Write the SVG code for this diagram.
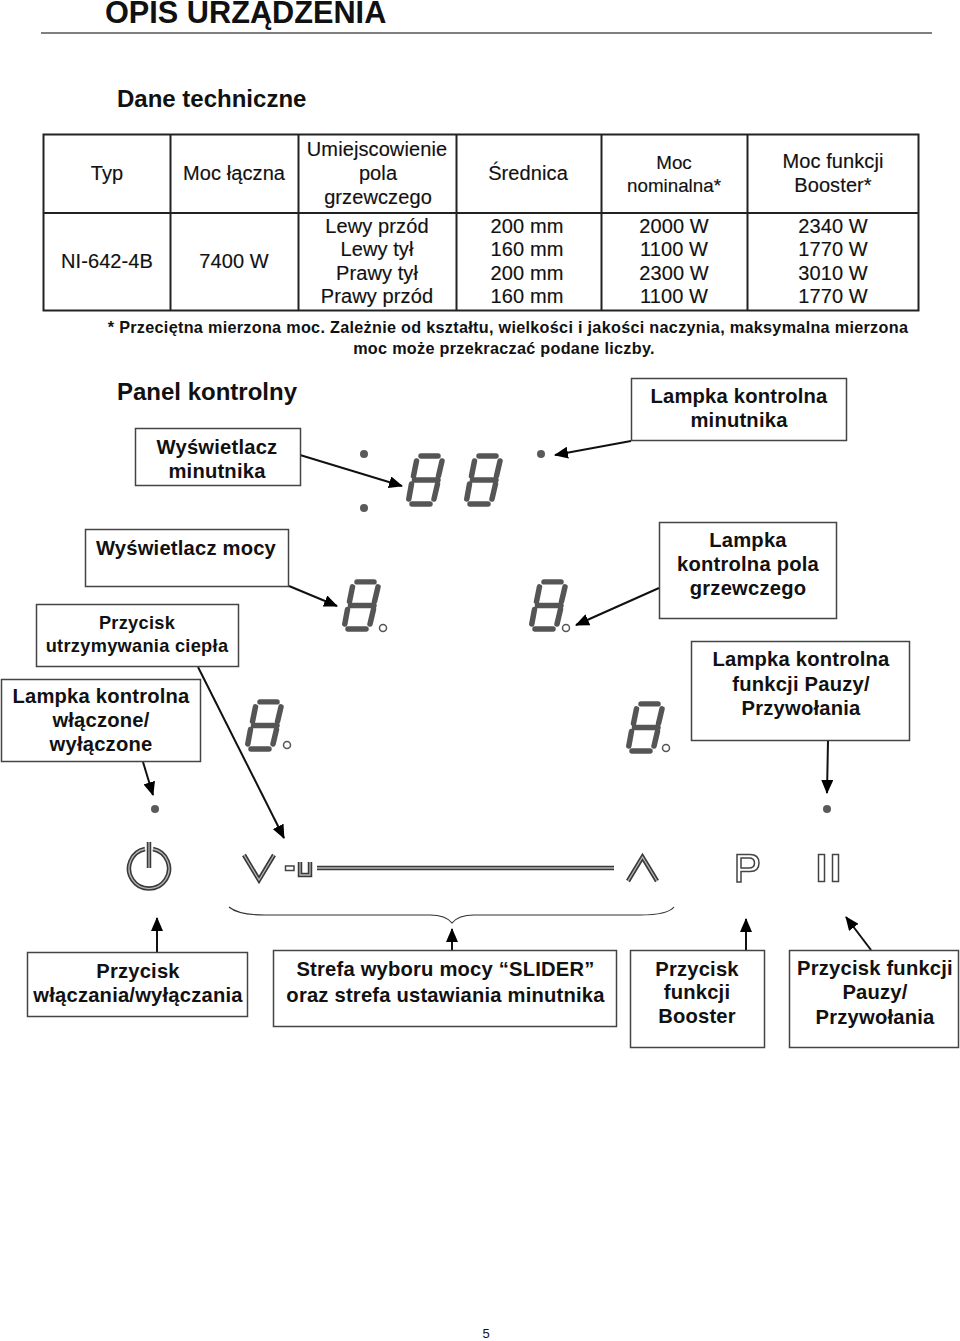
<svg xmlns="http://www.w3.org/2000/svg" width="960" height="1341" viewBox="0 0 960 1341">
<style>
text{font-family:"Liberation Sans",Arial,sans-serif;fill:#111;text-anchor:middle}
.t{font-size:20px;letter-spacing:.1px;stroke:#111;stroke-width:.15px}
.l{font-size:20.200px;font-weight:700;letter-spacing:.2px}
.s{font-size:18.800px;stroke:#111;stroke-width:.15px}
.u{font-size:18.200px;font-weight:700;letter-spacing:.3px}
.f{font-size:16.200px;font-weight:700;letter-spacing:.3px}
.b{fill:#fff;stroke:#444;stroke-width:1.5}
.c{fill:none;stroke:#111;stroke-width:2;marker-end:url(#a)}
.g{fill:none;stroke:#222;stroke-width:2}
.seg{fill:none;stroke:#555;stroke-width:5.500;stroke-linecap:round}
.dot{fill:#5a5a5a}
.o{fill:#fff;stroke:#555;stroke-width:1.5}
.ic{fill:none;stroke:#3a3a3a;stroke-width:4.5}
.in{fill:none;stroke:#b5b5b5;stroke-width:1.3}
.h{fill:#fff;stroke:#444;stroke-width:1.5}
</style>
<defs>
<marker id="a" viewBox="0 0 14 12" refX="13" refY="6" markerUnits="userSpaceOnUse" markerWidth="14" markerHeight="12" orient="auto"><path d="M0 0L14 6L0 12z" fill="#000"/></marker>
<g id="d">
<path class="seg" d="M14 4H31M7.500 28H31M5 52H23M9.500 9L6.500 24M35 9L31.500 24M4.500 32L1.800 47M30.500 32L27 47"/>
</g>
</defs>
<g id="header">
<text x="105" y="23" font-size="30.700" font-weight="700" style="text-anchor:start">OPIS URZĄDZENIA</text>
<line x1="41" y1="33" x2="932" y2="33" stroke="#555" stroke-width="1.300"/>
<text x="117" y="107" font-size="24" font-weight="700" style="text-anchor:start">Dane techniczne</text>
</g>
<g id="table">
<rect x="43.500" y="134.500" width="875" height="176" fill="none" stroke="#222" stroke-width="2"/>
<path class="g" d="M170.500 134V311M298.500 134V311M456.500 134V311M601.500 134V311M747.500 134V311M43 213H919"/>
<text class="t" x="107" y="180">Typ</text><text class="t" x="234" y="180">Moc łączna</text>
<text class="t" x="377" y="156">Umiejscowienie</text><text class="t" x="378" y="180">pola</text><text class="t" x="378" y="204">grzewczego</text>
<text class="t" x="528" y="180">Średnica</text>
<text class="s" x="674" y="169">Moc</text><text class="s" x="674" y="192">nominalna*</text>
<text class="t" x="833" y="168">Moc funkcji</text><text class="t" x="833" y="192">Booster*</text>
<text class="t" x="107" y="268">NI-642-4B</text><text class="t" x="234" y="268">7400 W</text>
<text class="t" x="377" y="233">Lewy przód</text><text class="t" x="377" y="256">Lewy tył</text><text class="t" x="377" y="280">Prawy tył</text><text class="t" x="377" y="303">Prawy przód</text>
<text class="t" x="527" y="233">200 mm</text><text class="t" x="527" y="256">160 mm</text><text class="t" x="527" y="280">200 mm</text><text class="t" x="527" y="303">160 mm</text>
<text class="t" x="674" y="233">2000 W</text><text class="t" x="674" y="256">1100 W</text><text class="t" x="674" y="280">2300 W</text><text class="t" x="674" y="303">1100 W</text>
<text class="t" x="833" y="233">2340 W</text><text class="t" x="833" y="256">1770 W</text><text class="t" x="833" y="280">3010 W</text><text class="t" x="833" y="303">1770 W</text>
<text class="f" x="508" y="333">* Przeciętna mierzona moc. Zależnie od kształtu, wielkości i jakości naczynia, maksymalna mierzona</text>
<text class="f" x="504" y="354">moc może przekraczać podane liczby.</text>
<text x="117" y="400" font-size="24" font-weight="700" style="text-anchor:start">Panel kontrolny</text>
</g>
<g id="panel">
<circle class="dot" cx="364" cy="454" r="4"/><circle class="dot" cx="364" cy="508" r="4"/><circle class="dot" cx="541" cy="454" r="4"/>
<use href="#d" x="407" y="452"/><use href="#d" x="465" y="452"/>
<use href="#d" transform="translate(343 578) scale(1 .98)"/><circle class="o" cx="383" cy="628" r="3.500"/>
<use href="#d" transform="translate(530 578) scale(1 .98)"/><circle class="o" cx="566" cy="628" r="3.500"/>
<use href="#d" transform="translate(246 698) scale(1 .98)"/><circle class="o" cx="287" cy="745" r="3.500"/>
<use href="#d" transform="translate(627 700) scale(1 .98)"/><circle class="o" cx="666" cy="748" r="3.500"/>
<circle class="dot" cx="155" cy="809" r="4"/><circle class="dot" cx="827" cy="809" r="4"/>
<g id="icons">
<path class="ic" d="M145 849A20 20 0 1 0 153 849M149 842V868M244 855L259 880L274 855M300 862V875H310V862M317 868H614M628 881L642.500 857L657 881"/>
<path class="in" d="M145 849A20 20 0 1 0 153 849M149 842V868M244 855L259 880L274 855M300 862V875H310V862M317 868H614M628 881L642.500 857L657 881"/>
<rect class="h" x="285.500" y="866" width="8.500" height="4.500"/>
<path class="h" d="M737 882V854.500H750Q759 854.500 759 863Q759 871.500 750 871.500H741V882zM741 858V868H749Q754.500 868 754.500 863Q754.500 858 749 858z" fill-rule="evenodd"/>
<rect class="h" x="818.500" y="854.500" width="6" height="27"/><rect class="h" x="832.500" y="854.500" width="6" height="27"/>
<path d="M229 907C236 913 250 915 265 915H430C440 915 448 918 452 923C456 918 464 915 474 915H640C658 915 670 912 674 907" fill="none" stroke="#333" stroke-width="1.200"/>
</g>
</g>
<g id="connectors">
<path class="c" d="M300 455L402 486"/>
<path class="c" d="M631 441L555 455"/>
<path class="c" d="M289 586L337 606"/>
<path class="c" d="M659 588L576 625"/>
<path class="c" d="M143 762L153 795"/>
<path class="c" d="M198 667L284 838"/>
<path class="c" d="M828 741L827 793"/>
<path class="c" d="M157 952V918"/>
<path class="c" d="M452 950V929"/>
<path class="c" d="M746 950V919"/>
<path class="c" d="M871 950L846 917"/>
</g>
<g id="n1"><rect class="b" x="135.500" y="428.500" width="165" height="57"/><text class="l" x="217" y="454">Wyświetlacz</text><text class="l" x="217" y="478">minutnika</text></g>
<g id="n2"><rect class="b" x="631.500" y="378.500" width="215" height="62"/><text class="l" x="739" y="403">Lampka kontrolna</text><text class="l" x="739" y="427">minutnika</text></g>
<g id="n3"><rect class="b" x="85.500" y="529.500" width="203" height="57"/><text class="l" x="186" y="555">Wyświetlacz mocy</text></g>
<g id="n4"><rect class="b" x="659.500" y="522.500" width="177" height="96"/><text class="l" x="748" y="547">Lampka</text><text class="l" x="748" y="571">kontrolna pola</text><text class="l" x="748" y="595">grzewczego</text></g>
<g id="n5"><rect class="b" x="36.500" y="604.500" width="202" height="62"/><text class="u" x="137" y="629">Przycisk</text><text class="u" x="137" y="652">utrzymywania ciepła</text></g>
<g id="n6"><rect class="b" x="691.500" y="641.500" width="218" height="99"/><text class="l" x="801" y="666">Lampka kontrolna</text><text class="l" x="801" y="691">funkcji Pauzy/</text><text class="l" x="801" y="715">Przywołania</text></g>
<g id="n7"><rect class="b" x="1.500" y="679.500" width="199" height="82"/><text class="l" x="101" y="703">Lampka kontrolna</text><text class="l" x="101" y="727">włączone/</text><text class="l" x="101" y="751">wyłączone</text></g>
<g id="n8"><rect class="b" x="27.500" y="952.500" width="220" height="64"/><text class="l" x="138" y="978">Przycisk</text><text class="l" x="138" y="1002">włączania/wyłączania</text></g>
<g id="n9"><rect class="b" x="273.500" y="950.500" width="343" height="76"/><text class="l" x="445.500" y="976">Strefa wyboru mocy “SLIDER”</text><text class="l" x="445.500" y="1002">oraz strefa ustawiania minutnika</text></g>
<g id="n10"><rect class="b" x="630.500" y="950.500" width="134" height="97"/><text class="l" x="697" y="976">Przycisk</text><text class="l" x="697" y="999">funkcji</text><text class="l" x="697" y="1023">Booster</text></g>
<g id="n11"><rect class="b" x="789.500" y="950.500" width="169" height="97"/><text class="l" x="875" y="975">Przycisk funkcji</text><text class="l" x="875" y="999">Pauzy/</text><text class="l" x="875" y="1024">Przywołania</text></g>
<text x="486" y="1338" font-size="13">5</text>
</svg>
